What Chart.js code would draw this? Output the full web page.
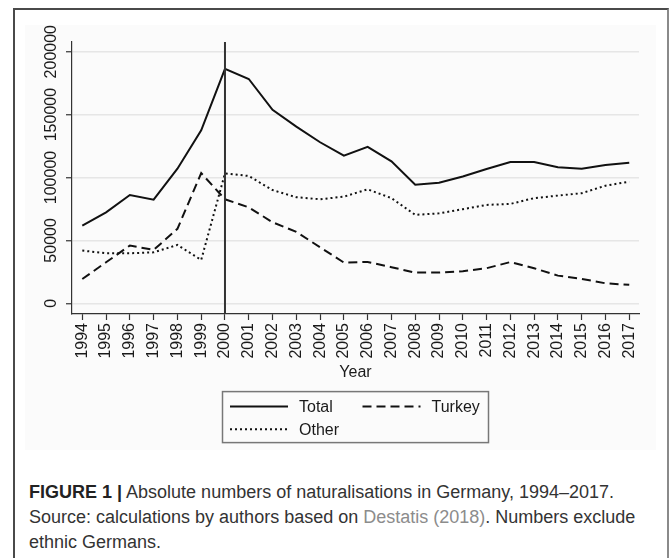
<!DOCTYPE html>
<html>
<head>
<meta charset="utf-8">
<script src="https://cdn.jsdelivr.net/npm/chart.js@4.4.1/dist/chart.umd.min.js"></script>
<style>
  html, body { margin: 0; padding: 0; background: #fff; width: 669px; height: 558px; overflow: hidden; }
  #frame { position: absolute; left: 13px; top: 8px; width: 652px; height: 600px;
           border-left: 2px solid #4a4a4a; border-top: 2px solid #4a4a4a; border-right: 2px solid #8a8a8a; }
  #wrap { position: absolute; left: 25px; top: 25px; width: 631px; height: 425px; background: #fbfbfb; }
  #caption { position: absolute; left: 29px; top: 480px; font-family: "Liberation Sans", Arial, sans-serif;
             font-size: 18px; line-height: 25px; color: #333; white-space: nowrap; }
  #caption b { color: #222; }
  #caption .ref { color: #8c8c8c; }
</style>
</head>
<body>
<div id="frame"></div>
<div id="wrap"><canvas id="mycanvas" width="631" height="425"></canvas></div>
<div id="caption">
  <b>FIGURE 1 |</b> Absolute numbers of naturalisations in Germany, 1994–2017.<br>
  Source: calculations by authors based on <span class="ref">Destatis (2018)</span>. Numbers exclude<br>
  ethnic Germans.
</div>
<script>
//-------------------------
// data
//-------------------------
var years  = [1994, 1995, 1996, 1997, 1998, 1999, 2000, 2001, 2002, 2003, 2004, 2005,
              2006, 2007, 2008, 2009, 2010, 2011, 2012, 2013, 2014, 2015, 2016, 2017];
var total  = [61700, 72300, 86100, 82400, 107000, 137500, 186300, 178300, 153800, 140400, 128000, 117300,
              124300, 112800, 94200, 95900, 100800, 106800, 112300, 112300, 108200, 107000, 110000, 111800];
var turkey = [19300, 32600, 45900, 42400, 59200, 103500, 82700, 76300, 64400, 56800, 44500, 32400,
              32900, 28700, 24400, 24400, 25500, 27900, 32800, 27900, 22000, 19400, 15900, 14700];
var other  = [41900, 39800, 39800, 40500, 46400, 34500, 103300, 101200, 90000, 84300, 82700, 84800,
              90600, 83600, 70300, 71500, 74800, 78200, 79000, 83600, 85600, 87500, 93500, 96700];
var yTickValues = [0, 50000, 100000, 150000, 200000];
var seriesNames = ['Total', 'Turkey', 'Other'];
var markerYear = 2000;
var xLabel = 'Year';

var FONT = '"Liberation Sans", Arial, sans-serif';
var INK = '#1a1a1a';

// vertical reference line at the year 2000
var markerLine = {
  id: 'markerLine',
  afterDatasetsDraw: function(chart) {
    var ctx = chart.ctx, xs = chart.scales.x, area = chart.chartArea;
    var px = xs.getPixelForValue(markerYear);
    ctx.save();
    ctx.strokeStyle = '#333';
    ctx.lineWidth = 2;
    ctx.beginPath();
    ctx.moveTo(px, area.top);
    ctx.lineTo(px, area.bottom);
    ctx.stroke();
    ctx.restore();
  }
};

// y tick labels turned 90 degrees like the Stata output
var yLabels = {
  id: 'yLabels',
  afterDraw: function(chart) {
    var ctx = chart.ctx, ys = chart.scales.y;
    ctx.save();
    ctx.font = '16px ' + FONT;
    ctx.fillStyle = INK;
    ctx.textAlign = 'center';
    ctx.textBaseline = 'middle';
    ys.ticks.forEach(function(t) {
      ctx.save();
      ctx.translate(ys.right - 20, ys.getPixelForValue(t.value));
      ctx.rotate(-Math.PI / 2);
      ctx.fillText(String(t.value), 0, 0);
      ctx.restore();
    });
    ctx.restore();
  }
};

// boxed two-column legend under the axis title
var boxLegend = {
  id: 'boxLegend',
  afterDraw: function(chart) {
    var ctx = chart.ctx, xs = chart.scales.x, area = chart.chartArea;
    var w = 266, h = 51;
    var left = (area.left + area.right) / 2 - w / 2;
    var top = xs.bottom + 9;
    ctx.save();
    ctx.strokeStyle = '#777';
    ctx.lineWidth = 1.5;
    ctx.strokeRect(left, top, w, h);
    var colStart = [7.5, 140];
    ctx.font = '16px ' + FONT;
    ctx.textBaseline = 'middle';
    ctx.textAlign = 'left';
    chart.data.datasets.forEach(function(ds, i) {
      var col = i % 2, row = Math.floor(i / 2);
      var x0 = left + colStart[col];
      var y0 = top + 15 + row * 22.6;
      ctx.strokeStyle = ds.borderColor;
      ctx.lineWidth = ds.borderWidth;
      ctx.setLineDash(ds.borderDash || []);
      ctx.beginPath();
      ctx.moveTo(x0, y0);
      ctx.lineTo(x0 + 58, y0);
      ctx.stroke();
      ctx.setLineDash([]);
      ctx.fillStyle = INK;
      ctx.fillText(ds.label, x0 + 69, y0 + 1);
    });
    ctx.restore();
  }
};

var chartdata = {
  labels: years,
  datasets: [
    { label: seriesNames[0], data: total,  borderColor: '#111', borderWidth: 2, borderDash: [] },
    { label: seriesNames[1], data: turkey, borderColor: '#111', borderWidth: 2, borderDash: [9, 5] },
    { label: seriesNames[2], data: other,  borderColor: '#111', borderWidth: 2, borderDash: [2, 3] }
  ]
};

var ctx = document.getElementById('mycanvas');

var lineGraph = new Chart(ctx, {
  type: 'line',
  data: chartdata,
  plugins: [markerLine, yLabels, boxLegend],
  options: {
    responsive: false,
    animation: false,
    devicePixelRatio: 1,
    layout: { padding: { top: 17, left: 0, right: 17, bottom: 67.4 } },
    elements: {
      point: { radius: 0, hoverRadius: 0 },
      line: { tension: 0, borderCapStyle: 'butt', borderJoinStyle: 'miter' }
    },
    plugins: {
      legend: { display: false },
      tooltip: { enabled: false }
    },
    scales: {
      x: {
        type: 'linear',
        min: 1993.567,
        max: 2017.41,
        afterFit: function(scale) { scale.height = 68.6; },
        border: { display: true, color: '#333', width: 1.2 },
        grid: { drawOnChartArea: false, drawTicks: true, tickLength: 6, color: '#333', tickWidth: 1.2 },
        ticks: {
          stepSize: 1,
          maxTicksLimit: 40,
          autoSkip: false,
          includeBounds: false,
          minRotation: 90,
          maxRotation: 90,
          padding: 3,
          color: INK,
          font: { family: FONT, size: 16 },
          callback: function(v) { return String(v); }
        },
        title: {
          display: true,
          text: xLabel,
          color: INK,
          font: { family: FONT, size: 16 },
          padding: { top: 0, bottom: 0 }
        }
      },
      y: {
        min: -8500,
        max: 207700,
        afterFit: function(scale) { scale.width = 47; },
        afterBuildTicks: function(scale) {
          scale.ticks = yTickValues.map(function(v) { return { value: v }; });
        },
        border: { display: true, color: '#333', width: 1.2 },
        grid: { color: '#e6e6e6', lineWidth: 1.5, drawTicks: true, tickLength: 6, tickColor: '#333', tickWidth: 1.2 },
        ticks: {
          color: 'rgba(0,0,0,0)',
          font: { family: FONT, size: 16 }
        }
      }
    }
  }
});
</script>
</body>
</html>
